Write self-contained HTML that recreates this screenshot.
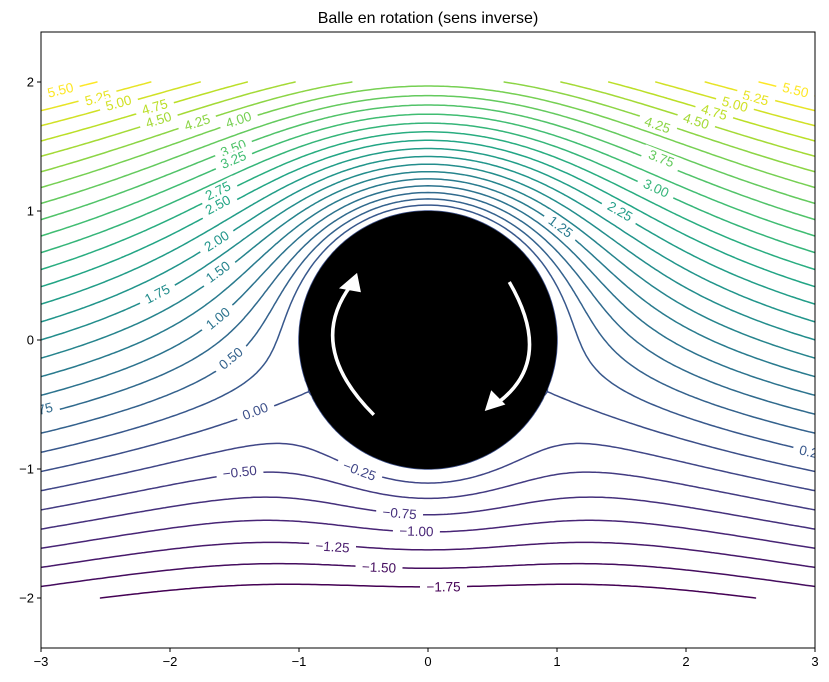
<!DOCTYPE html>
<html><head><meta charset="utf-8">
<style>
html,body{margin:0;padding:0;background:#fff;}
svg{display:block;font-family:"Liberation Sans","DejaVu Sans",sans-serif;}
</style></head>
<body>
<svg id="chart" width="829" height="682" viewBox="0 0 829 682" xmlns="http://www.w3.org/2000/svg">
<defs><clipPath id="clip"><rect x="41" y="32" width="774" height="616"/></clipPath></defs>
<rect x="0" y="0" width="829" height="682" fill="#fff"/>
<text x="428" y="23" font-size="16" text-anchor="middle" fill="#000">Balle en rotation (sens inverse)</text>
<g id="lines" clip-path="url(#clip)"></g>
<g id="ball"></g>
<g id="labels" clip-path="url(#clip)"></g>
<g id="axes"></g>
</svg>
<script>
// ---- data ----
const levels = [-1.75,-1.5,-1.25,-1.0,-0.75,-0.5,-0.25,0.0,0.25,0.5,0.75,1.0,1.25,1.5,1.75,2.0,2.25,2.5,2.75,3.0,3.25,3.5,3.75,4.0,4.25,4.5,4.75,5.0,5.25,5.5];
const flowSpeed = 2;      // U
const circulation = 10;   // Gamma
const ballRadius = 1;
const xTicks = [-3,-2,-1,0,1,2,3];
const yTicks = [-2,-1,0,1,2];
const labelLevels = [5.5,5.25,5.0,4.75,4.5,4.25,4.0,3.5,3.25,2.75,2.5,2.0,1.75,1.5,1.0,0.5,0.75,0.0,-0.25,-0.5,-0.75,-1.0,-1.25,-1.5,-1.75,
  5.5,5.25,5.0,4.75,4.5,4.25,3.75,3.0,2.25,1.25,0.25];
const labelX = [-2.85,-2.56,-2.40,-2.12,-2.09,-1.79,-1.47,-1.51,-1.51,-1.63,-1.63,-1.64,-2.10,-1.63,-1.63,-1.53,-3.01,-1.34,-0.53,-1.46,-0.22,-0.09,-0.74,-0.38,0.12,
  2.85,2.54,2.38,2.22,2.08,1.78,1.81,1.77,1.49,1.03,2.98];
const labelY = [1.94,1.88,1.84,1.81,1.71,1.69,1.71,1.49,1.40,1.16,1.05,0.77,0.36,0.53,0.17,-0.14,-0.54,-0.55,-1.01,-1.02,-1.34,-1.48,-1.60,-1.76,-1.91,
  1.94,1.88,1.83,1.77,1.70,1.67,1.41,1.18,1.00,0.88,-0.87];

// ---- scales ----
const X0=41,X1=815,Y0=32,Y1=648;
const xmin=-3,xmax=3,ymin=-2.3876,ymax=2.3876;
const sx = x => X0+(x-xmin)/(xmax-xmin)*(X1-X0);
const sy = y => Y1-(y-ymin)/(ymax-ymin)*(Y1-Y0);
const NS="http://www.w3.org/2000/svg";
function mk(tag,attrs,parent){const e=document.createElementNS(NS,tag);for(const k in attrs)e.setAttribute(k,attrs[k]);parent.appendChild(e);return e;}

function psi(x,y){
  const r2=Math.max(x*x+y*y,1e-6);
  return flowSpeed*y*(1-ballRadius*ballRadius/r2)+circulation/(2*Math.PI)*Math.log(Math.sqrt(r2)/ballRadius);
}
const vstops=[[0,68,1,84],[0.1,72,36,117],[0.2,65,68,135],[0.3,53,95,141],[0.4,42,120,142],[0.5,33,145,140],[0.6,34,168,132],[0.7,68,191,112],[0.8,122,209,81],[0.9,189,223,38],[1,253,231,37]];
function viridis(t){
  for(let i=1;i<vstops.length;i++){ if(t<=vstops[i][0]+1e-9){const a=vstops[i-1],b=vstops[i];const f=(t-a[0])/(b[0]-a[0]);
    return `rgb(${Math.round(a[1]+f*(b[1]-a[1]))},${Math.round(a[2]+f*(b[2]-a[2]))},${Math.round(a[3]+f*(b[3]-a[3]))})`;}}
  return 'rgb(253,231,37)';
}
const lmin=levels[0],lmax=levels[levels.length-1];
const colorOf = lv => viridis((lv-lmin)/(lmax-lmin));

// ---- grid & marching squares ----
const NX=241,NY=161,gx0=-3,gx1=3,gy0=-2,gy1=2;
const G=[];
for(let j=0;j<NY;j++){const row=[];const y=gy0+(gy1-gy0)*j/(NY-1);
  for(let i=0;i<NX;i++){const x=gx0+(gx1-gx0)*i/(NX-1);row.push(psi(x,y));}G.push(row);}
const gX=i=>gx0+(gx1-gx0)*i/(NX-1), gY=j=>gy0+(gy1-gy0)*j/(NY-1);
const linesG=document.getElementById('lines');
levels.forEach(lv=>{
  let d='';
  for(let j=0;j<NY-1;j++)for(let i=0;i<NX-1;i++){
    const v=[G[j][i],G[j][i+1],G[j+1][i+1],G[j+1][i]];
    if(!v.every(Number.isFinite)) continue;
    const p=[[gX(i),gY(j)],[gX(i+1),gY(j)],[gX(i+1),gY(j+1)],[gX(i),gY(j+1)]];
    const pts=[];
    for(let e=0;e<4;e++){const a=v[e],b=v[(e+1)%4];
      if((a<lv)!==(b<lv)){const t=(lv-a)/(b-a);const A=p[e],B=p[(e+1)%4];pts.push([A[0]+t*(B[0]-A[0]),A[1]+t*(B[1]-A[1])]);}}
    for(let k=0;k+1<pts.length;k+=2){
      d+=`M${sx(pts[k][0]).toFixed(1)},${sy(pts[k][1]).toFixed(1)}L${sx(pts[k+1][0]).toFixed(1)},${sy(pts[k+1][1]).toFixed(1)}`;}
  }
  const path=mk('path',{d:d,stroke:colorOf(lv),'stroke-width':1.5,fill:'none','stroke-linecap':'round'},linesG);
  
  
});

// ---- ball ----
const ballG=document.getElementById('ball');
const disk=mk('circle',{cx:sx(0),cy:sy(0),r:sx(ballRadius)-sx(0),fill:'#000'},ballG);


const a1=mk('path',{d:`M${sx(-0.42)},${sy(-0.58)} Q${sx(-0.95)},${sy(-0.05)} ${sx(-0.6)},${sy(0.42)}`,stroke:'#fff','stroke-width':3.5,fill:'none'},ballG);


const h1=mk('polygon',{points:`${sx(-0.55)},${sy(0.52)} ${sx(-0.69)},${sy(0.40)} ${sx(-0.52)},${sy(0.37)}`,fill:'#fff'},ballG);


const a2=mk('path',{d:`M${sx(0.63)},${sy(0.45)} Q${sx(0.98)},${sy(-0.15)} ${sx(0.55)},${sy(-0.48)}`,stroke:'#fff','stroke-width':3.5,fill:'none'},ballG);


const h2=mk('polygon',{points:`${sx(0.44)},${sy(-0.55)} ${sx(0.49)},${sy(-0.39)} ${sx(0.6)},${sy(-0.5)}`,fill:'#fff'},ballG);



// ---- contour labels ----
const labG=document.getElementById('labels');
labelLevels.forEach((lv,k)=>{
  const x=labelX[k],y=labelY[k],h=1e-4;
  const px=(psi(x+h,y)-psi(x-h,y))/(2*h), py=(psi(x,y+h)-psi(x,y-h))/(2*h);
  let ang=Math.atan2(px,py)*180/Math.PI;
  if(ang>90)ang-=180; if(ang<-90)ang+=180;
  const txt=(lv<0?'\u2212':'')+Math.abs(lv).toFixed(2);
  const g=mk('g',{transform:`translate(${sx(x).toFixed(1)},${sy(y).toFixed(1)}) rotate(${ang.toFixed(1)})`},labG);
  
  
  const w=txt.length*7.8+8;
  mk('rect',{x:-w/2,y:-7,width:w,height:14,fill:'#fff'},g);
  const t=mk('text',{x:0,y:5,'font-size':13.5,'text-anchor':'middle',fill:colorOf(lv)},g);
  t.textContent=txt;
});

// ---- axes ----
const axG=document.getElementById('axes');
const frame=mk('rect',{x:X0,y:Y0,width:X1-X0,height:Y1-Y0,fill:'none',stroke:'#000','stroke-width':1},axG);


xTicks.forEach(v=>{
  mk('line',{x1:sx(v),x2:sx(v),y1:Y1,y2:Y1+4,stroke:'#000'},axG);
  const t=mk('text',{x:sx(v),y:Y1+18,'font-size':13,'text-anchor':'middle',fill:'#000'},axG);
  t.textContent=(v<0?'\u2212':'')+Math.abs(v);
  
  
});
yTicks.forEach(v=>{
  mk('line',{x1:X0-4,x2:X0,y1:sy(v),y2:sy(v),stroke:'#000'},axG);
  const t=mk('text',{x:X0-7,y:sy(v)+4.5,'font-size':13,'text-anchor':'end',fill:'#000'},axG);
  t.textContent=(v<0?'\u2212':'')+Math.abs(v);
  
  
});
</script>
</body></html>
